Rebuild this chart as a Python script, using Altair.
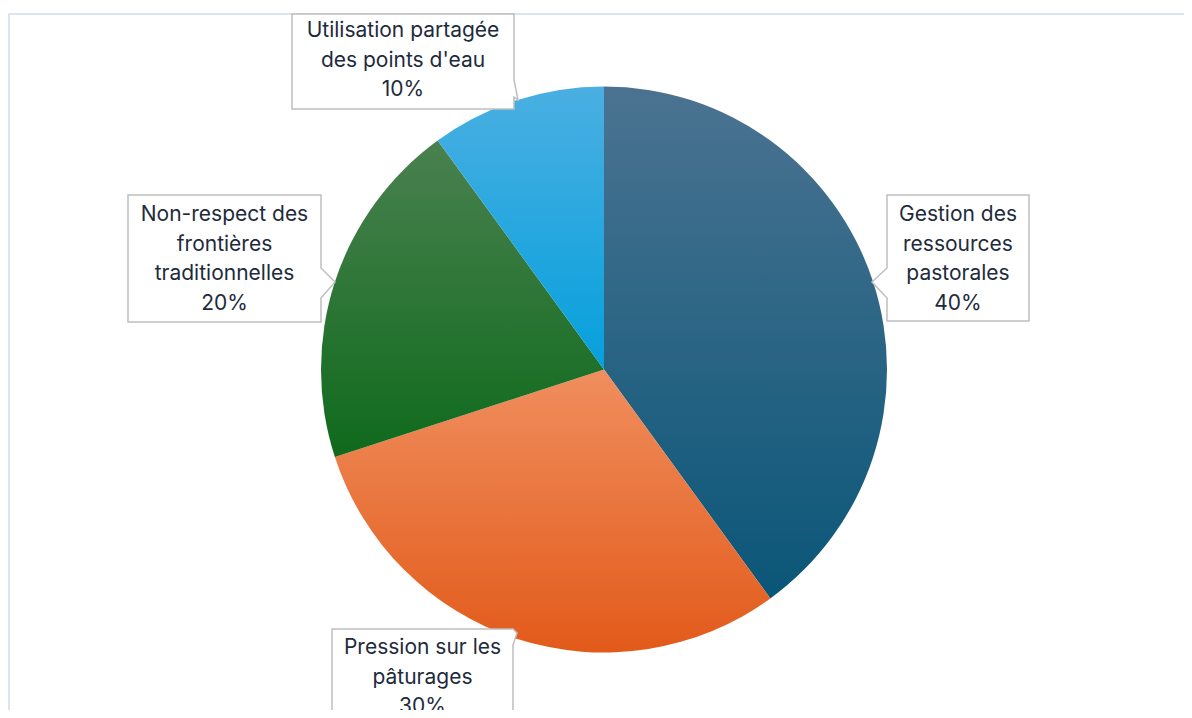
import altair as alt
import pandas as pd

# ---- data ----
categories = [
    "Gestion des ressources pastorales",
    "Pression sur les pâturages",
    "Non-respect des frontières traditionnelles",
    "Utilisation partagée des points d'eau",
]
values = [40, 30, 20, 10]
label_lines = [
    ["Gestion des", "ressources", "pastorales"],
    ["Pression sur les", "pâturages"],
    ["Non-respect des", "frontières", "traditionnelles"],
    ["Utilisation partagée", "des points d'eau"],
]

df = pd.DataFrame({"category": categories, "value": values, "order": list(range(len(values)))})

# ---- styles / layout (not data) ----
gradients = [
    ("#4b7391", "#0a5678"),
    ("#f08e5e", "#e25a1a"),
    ("#4a8150", "#0f6a1c"),
    ("#4aafe2", "#05a0dc"),
]
CX, CY, R = 596, 361.5, 283
callouts = [
    {"path": "M879,187 H1021 V313 H879 V290 L864,274 L879,260 Z", "tx": 950, "ty": 207},
    {"path": "M324,621 H505 L509,625 L505,637 V760 H324 Z", "tx": 414.5, "ty": 640},
    {"path": "M120,187 H313 V260 L327,274 L313,290 V314 H120 Z", "tx": 216.5, "ty": 207},
    {"path": "M284,6 H506 V72 L510,92 L506,89 V101 H284 Z", "tx": 395, "ty": 23},
]
FONT = "Inter"
FS = 21
TXT = "#1e2b3c"

one = pd.DataFrame({"a": [0]})

layers = []
frame = alt.Chart(one).mark_rect(fillOpacity=0, stroke="#cfdbea", strokeWidth=1.5).encode(
    x=alt.value(1), x2=alt.value(1400), y=alt.value(6), y2=alt.value(1000)
)
layers.append(frame)

base = (
    alt.Chart(df)
    .transform_window(cum="sum(value)", sort=[alt.SortField("order")], frame=[None, 0])
    .transform_calculate(start="datum.cum - datum.value")
)
for i, (top, bot) in enumerate(gradients):
    grad = alt.Gradient(
        gradient="linear",
        stops=[alt.GradientStop(color=top, offset=0), alt.GradientStop(color=bot, offset=1)],
        x1=0, x2=0, y1=0, y2=1,
    )
    arc = (
        base.transform_filter(alt.datum.order == i)
        .mark_arc(radius=R, fill=grad, stroke="transparent")
        .encode(
            theta=alt.Theta("start:Q", scale=alt.Scale(domain=[0, 100])),
            theta2="cum:Q",
            x=alt.value(CX),
            y=alt.value(CY),
        )
    )
    layers.append(arc)

for i, c in enumerate(callouts):
    box = alt.Chart(one).mark_point(
        shape=c["path"], size=4, filled=True, fill="white", stroke="#bfbfbf",
        strokeWidth=1.5, opacity=1, fillOpacity=1,
    ).encode(x=alt.value(0), y=alt.value(0))
    layers.append(box)

for i, c in enumerate(callouts):
    text = "\n".join(label_lines[i] + [f"{values[i]}%"])
    t = alt.Chart(pd.DataFrame({"t": [text]})).mark_text(
        font=FONT, fontSize=FS, color=TXT, align="center", baseline="middle",
        lineBreak="\n", lineHeight=29.5,
    ).encode(text="t:N", x=alt.value(c["tx"]), y=alt.value(c["ty"]))
    layers.append(t)

chart = (
    alt.layer(*layers)
    .properties(width=1176, height=702, padding=0, autosize=alt.AutoSizeParams(type="none"), background="white")
    .configure_view(stroke=None)
)
chart.save("out.html", embed_options={"renderer": "svg", "actions": False})
